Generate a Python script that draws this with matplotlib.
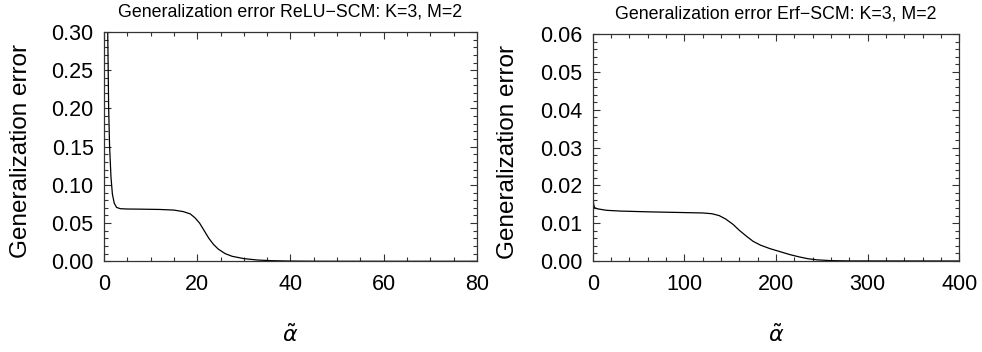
import matplotlib
matplotlib.use("Agg")
import matplotlib.pyplot as plt
from matplotlib.ticker import MultipleLocator, FuncFormatter

plt.rcParams['font.family'] = ['Liberation Sans', 'DejaVu Sans']
plt.rcParams['mathtext.fontset'] = 'dejavusans'

# ReLU-SCM generalization error
relu_alpha = [0.5, 0.8, 1.0, 1.2, 1.5, 1.8, 2.2, 2.7, 3.5, 5, 8, 12, 15, 17, 18.5, 19.5,
              20.5, 21.5, 22.5, 23.5, 24.5, 26, 27.5, 30, 33, 36, 40, 45, 50, 80]
relu_err = [0.42, 0.30, 0.20, 0.15, 0.11, 0.088, 0.076, 0.0705, 0.0688, 0.0684, 0.0682,
            0.0678, 0.0670, 0.0650, 0.0620, 0.0570, 0.050, 0.040, 0.030, 0.022, 0.016,
            0.010, 0.0065, 0.0035, 0.0016, 0.0008, 0.0003, 0.0001, 0.00003, 0.0]

# Erf-SCM generalization error
erf_alpha = [0, 1, 2, 5, 15, 30, 60, 100, 120, 130, 138, 145, 153, 160, 168, 175, 183,
             193, 204, 215, 225, 235, 245, 260, 280, 400]
erf_err = [0.0180, 0.0150, 0.0141, 0.0138, 0.0134, 0.0132, 0.0130, 0.0128, 0.0127,
           0.0125, 0.0120, 0.0111, 0.0097, 0.0081, 0.0065, 0.0052, 0.0042, 0.0033,
           0.0025, 0.0017, 0.0011, 0.0006, 0.0003, 0.0001, 0.00002, 0.0]

titles = ["Generalization error ReLU\u2212SCM: K=3, M=2",
          "Generalization error Erf\u2212SCM: K=3, M=2"]
ylabel = "Generalization error"
xlabel = r"$\tilde{\alpha}$"

fig = plt.figure(figsize=(9.82, 3.52), dpi=100)
ax1 = fig.add_axes([0.1059, 0.2577, 0.3798, 0.6514])
ax2 = fig.add_axes([0.6036, 0.2585, 0.3733, 0.6449])

specs = [
    (ax1, relu_alpha, relu_err, (0, 80), (0, 0.30), 20, 5, 0.05, 0.01, -0.194),
    (ax2, erf_alpha, erf_err, (0, 400), (0, 0.06), 100, 20, 0.01, 0.002, -0.200),
]

for (ax, xs, ys, xl, yl, xmaj, xmin, ymaj, ymin, ylx), title in zip(specs, titles):
    ax.plot(xs, ys, color='black', lw=0.9, clip_on=True)
    ax.set_xlim(*xl)
    ax.set_ylim(*yl)
    ax.xaxis.set_major_locator(MultipleLocator(xmaj))
    ax.xaxis.set_minor_locator(MultipleLocator(xmin))
    ax.yaxis.set_major_locator(MultipleLocator(ymaj))
    ax.yaxis.set_minor_locator(MultipleLocator(ymin))
    ax.yaxis.set_major_formatter(FuncFormatter(lambda v, p: "{:.2f}".format(v)))
    ax.xaxis.set_major_formatter(FuncFormatter(lambda v, p: "{:.0f}".format(v)))
    ax.tick_params(which='both', direction='in', top=True, right=True, color='#333333', width=0.8)
    ax.tick_params(which='major', length=5, labelsize=15.5)
    ax.tick_params(axis='x', which='major', pad=9)
    ax.tick_params(axis='y', which='major', pad=7.5)
    ax.tick_params(which='minor', length=3)
    for s in ax.spines.values():
        s.set_color('#333333')
        s.set_linewidth(0.9)
    ax.set_title(title, fontsize=12.8, pad=11)
    ax.set_ylabel(ylabel, fontsize=17.5)
    ax.yaxis.set_label_coords(ylx, 0.48)
    ax.set_xlabel(xlabel, fontsize=16, labelpad=22)

fig.savefig("out.png", dpi=100)
